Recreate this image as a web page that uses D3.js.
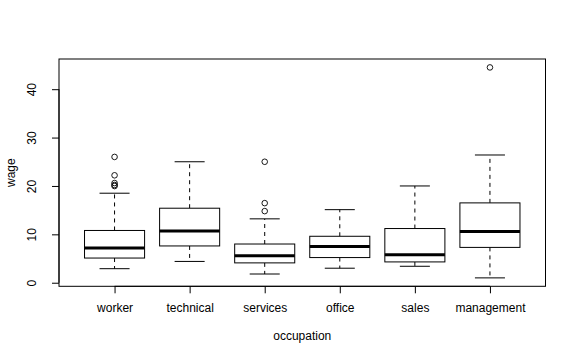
<!DOCTYPE html>
<html>
<head>
<meta charset="utf-8">
<script src="https://cdn.jsdelivr.net/npm/d3@7"></script>
<style>
  html, body { margin: 0; padding: 0; background: #ffffff; }
  svg text { font-family: "Liberation Sans", Arial, Helvetica, sans-serif; font-size: 12px; fill: #000; }
</style>
</head>
<body>
<svg id="chart" width="576" height="360"></svg>
<script>
// ---- data ----
const categories = ["worker", "technical", "services", "office", "sales", "management"];
const whiskerLow  = [2.9, 4.4, 1.8, 3.0, 3.4, 1.0];
const q1          = [5.1, 7.6, 4.1, 5.2, 4.3, 7.3];
const median      = [7.2, 10.7, 5.6, 7.5, 5.8, 10.6];
const q3          = [10.8, 15.4, 8.0, 9.6, 11.2, 16.5];
const whiskerHigh = [18.5, 25.0, 13.2, 15.1, 20.0, 26.4];
const outliers    = [
  [26.0, 22.2, 20.6, 20.2, 19.98],
  [],
  [25.0, 16.45, 14.8],
  [],
  [],
  [44.5]
];
const yTicks = [0, 10, 20, 30, 40];
const xTitle = "occupation";
const yTitle = "wage";

// ---- layout ----
const svg = d3.select("#chart");
const plot = { left: 59, right: 545.5, top: 59, bottom: 286.3 };

const allVals = whiskerLow.concat(whiskerHigh, outliers.flat());
const lo = d3.min(allVals), hi = d3.max(allVals);
const pad = (hi - lo) * 0.04;
const y = d3.scaleLinear().domain([lo - pad, hi + pad]).range([plot.bottom, plot.top]);

const n = categories.length;
const xlo = 0.5 - n * 0.04, xhi = n + 0.5 + n * 0.04;
const x = d3.scaleLinear().domain([xlo, xhi]).range([plot.left, plot.right]);
const boxHalf = (x(1.4) - x(1));
const capHalf = boxHalf / 2;

const data = categories.map((c, i) => ({
  c, i, pos: x(i + 1),
  lw: whiskerLow[i], q1: q1[i], med: median[i], q3: q3[i], hw: whiskerHigh[i],
  out: outliers[i]
}));

const g = svg.append("g");

// whiskers (dashed)
g.selectAll(".wlow").data(data).enter().append("line")
  .attr("x1", d => d.pos).attr("x2", d => d.pos)
  .attr("y1", d => y(d.q1)).attr("y2", d => y(d.lw))
  .attr("stroke", "#000").attr("stroke-width", 1).attr("stroke-dasharray", "4,4");
g.selectAll(".whigh").data(data).enter().append("line")
  .attr("x1", d => d.pos).attr("x2", d => d.pos)
  .attr("y1", d => y(d.q3)).attr("y2", d => y(d.hw))
  .attr("stroke", "#000").attr("stroke-width", 1).attr("stroke-dasharray", "4,4");

// staples
g.selectAll(".caplo").data(data).enter().append("line")
  .attr("x1", d => d.pos - capHalf).attr("x2", d => d.pos + capHalf)
  .attr("y1", d => y(d.lw)).attr("y2", d => y(d.lw))
  .attr("stroke", "#000").attr("stroke-width", 1);
g.selectAll(".caphi").data(data).enter().append("line")
  .attr("x1", d => d.pos - capHalf).attr("x2", d => d.pos + capHalf)
  .attr("y1", d => y(d.hw)).attr("y2", d => y(d.hw))
  .attr("stroke", "#000").attr("stroke-width", 1);

// boxes
g.selectAll(".box").data(data).enter().append("rect")
  .attr("x", d => d.pos - boxHalf).attr("width", 2 * boxHalf)
  .attr("y", d => y(d.q3)).attr("height", d => y(d.q1) - y(d.q3))
  .attr("fill", "#fff").attr("stroke", "#000").attr("stroke-width", 1);

// medians
g.selectAll(".med").data(data).enter().append("line")
  .attr("x1", d => d.pos - boxHalf).attr("x2", d => d.pos + boxHalf)
  .attr("y1", d => y(d.med)).attr("y2", d => y(d.med))
  .attr("stroke", "#000").attr("stroke-width", 3);

// outliers
const outPts = data.flatMap(d => d.out.map(v => ({ pos: d.pos, v })));
g.selectAll(".out").data(outPts).enter().append("circle")
  .attr("cx", d => d.pos).attr("cy", d => y(d.v)).attr("r", 2.8)
  .attr("fill", "none").attr("stroke", "#000").attr("stroke-width", 0.9);

// frame
svg.append("rect")
  .attr("x", plot.left).attr("y", plot.top)
  .attr("width", plot.right - plot.left).attr("height", plot.bottom - plot.top)
  .attr("fill", "none").attr("stroke", "#000").attr("stroke-width", 1);

// y axis
const yAxis = svg.append("g").attr("transform", `translate(${plot.left},0)`)
  .call(d3.axisLeft(y).tickValues(yTicks).tickSize(7).tickSizeOuter(0).tickFormat(d3.format("d")));
yAxis.select(".domain").remove();
yAxis.append("line").attr("x1", 0).attr("x2", 0)
  .attr("y1", y(yTicks[0])).attr("y2", y(yTicks[yTicks.length - 1])).attr("stroke", "#000");
yAxis.selectAll(".tick line").attr("stroke", "#000");
yAxis.selectAll(".tick text")
  .attr("x", 0).attr("y", -23).attr("dy", 0)
  .attr("transform", "rotate(-90)")
  .attr("text-anchor", "middle")
  .style("font-size", "12px").style("font-family", "Liberation Sans, Arial, sans-serif").attr("fill", "#000");

// x axis
const xAxis = svg.append("g").attr("transform", `translate(0,${plot.bottom})`)
  .call(d3.axisBottom(x).tickValues(d3.range(1, n + 1)).tickSize(7).tickSizeOuter(0)
    .tickFormat(d => categories[d - 1]));
xAxis.select(".domain").remove();
xAxis.append("line").attr("x1", x(1)).attr("x2", x(n)).attr("y1", 0).attr("y2", 0).attr("stroke", "#000");
xAxis.selectAll(".tick line").attr("stroke", "#000");
xAxis.selectAll(".tick text")
  .attr("y", 25.5).attr("dy", 0)
  .style("font-size", "12px").style("font-family", "Liberation Sans, Arial, sans-serif").attr("fill", "#000");

// titles
svg.append("text").attr("x", (plot.left + plot.right) / 2).attr("y", 340)
  .attr("text-anchor", "middle").text(xTitle);
svg.append("text").attr("transform", `translate(14.5,${(plot.top + plot.bottom) / 2}) rotate(-90)`)
  .attr("text-anchor", "middle").text(yTitle);
</script>
</body>
</html>
